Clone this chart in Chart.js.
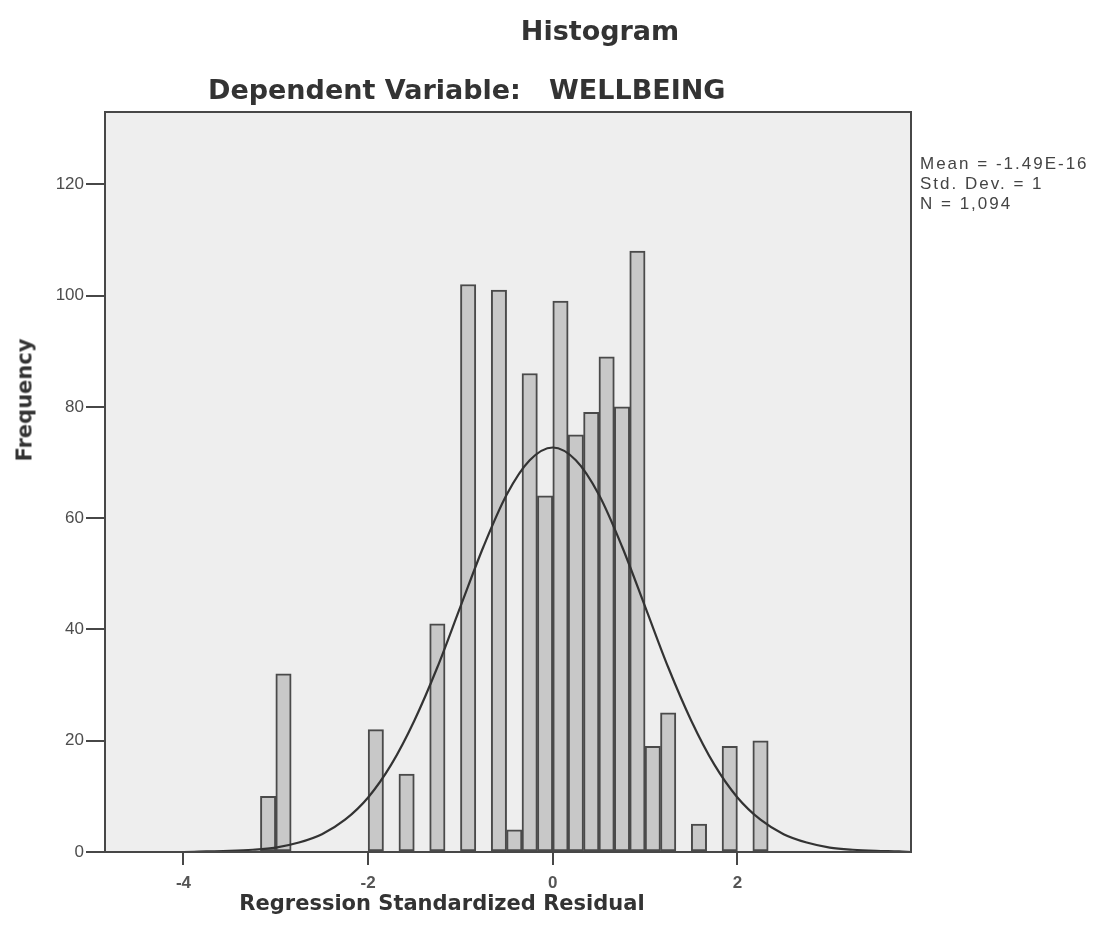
<!DOCTYPE html>
<html>
<head>
<meta charset="utf-8">
<title>Histogram</title>
<script src="https://cdn.jsdelivr.net/npm/chart.js@4.4.1/dist/chart.umd.min.js"></script>
<style>
  body { margin: 0; background: #fff; }
  #wrap { position: relative; width: 1098px; height: 943px; overflow: hidden; }
  #chart { position: absolute; left: 0; top: 0; }
  .lbl { position: absolute; line-height: 1; white-space: pre; color: #333; }
  .heading { font-family: 'DejaVu Sans', sans-serif; font-weight: bold; font-size: 27px; }
  .axis-title { font-family: 'DejaVu Sans', sans-serif; font-weight: bold; font-size: 21px; }
  .stats { font-family: 'Liberation Sans', Arial, sans-serif; font-size: 17px; letter-spacing: 2px; color: #444; }
</style>
</head>
<body>
<div id="wrap">
  <canvas id="chart" width="1098" height="943"></canvas>
  <div class="lbl heading" style="left:600px; top:17px; transform:translateX(-50%);">Histogram</div>
  <div class="lbl heading" style="left:208px; top:76px;">Dependent Variable:   WELLBEING</div>
  <div class="lbl axis-title" style="left:442px; top:893px; transform:translateX(-50%);">Regression Standardized Residual</div>
  <div class="lbl axis-title" style="left:25px; top:400px; transform:translate(-50%, -50%) rotate(-90deg);">Frequency</div>
  <div class="lbl stats" style="left:920px; top:155px;">Mean = -1.49E-16</div>
  <div class="lbl stats" style="left:920px; top:175px;">Std. Dev. = 1</div>
  <div class="lbl stats" style="left:920px; top:195px;">N = 1,094</div>
</div>
<script>
// Histogram bins (centre of each 1/6-wide bin) and their counts
const binCenters = [-3.0833, -2.9167, -1.9167, -1.5833, -1.2500, -0.9167, -0.5833, -0.4167,
                    -0.2500, -0.0833, 0.0833, 0.2500, 0.4167, 0.5833, 0.7500, 0.9167,
                    1.0833, 1.2500, 1.5833, 1.9167, 2.2500];
const binCounts = [10, 32, 22, 14, 41, 102, 101, 4,
                   86, 64, 99, 75, 79, 89, 80, 108,
                   19, 25, 5, 19, 20];

// Normal curve overlay, sampled along the residual axis
const curveX = [-4.85, -4.5, -4.25, -4, -3.75, -3.5, -3.25, -3, -2.75, -2.5, -2.25, -2,
                -1.75, -1.5, -1.25, -1, -0.75, -0.5, -0.25, 0, 0.25, 0.5, 0.75, 1,
                1.25, 1.5, 1.75, 2, 2.25, 2.5, 2.75, 3, 3.25, 3.5, 3.75, 3.88];
const curveY = [0, 0, 0, 0, 0.1, 0.2, 0.4, 0.8, 1.7, 3.2, 5.8, 9.8,
                15.7, 23.6, 33.2, 44.1, 54.9, 64.2, 70.4, 72.7, 70.4, 64.2, 54.9, 44.1,
                33.2, 23.6, 15.7, 9.8, 5.8, 3.2, 1.7, 0.8, 0.4, 0.2, 0.1, 0];

const xTicks = [-4, -2, 0, 2];
const yTicks = [0, 20, 40, 60, 80, 100, 120];
const xMin = -4.85, xMax = 3.88;
const yMax = 133;

const axisColor = '#474747';

// light plot background plus a frame round the plot area
const plotFrame = {
    id: 'plotFrame',
    beforeDraw(chart) {
        const { ctx, chartArea: a } = chart;
        ctx.save();
        ctx.fillStyle = '#eeeeee';
        ctx.fillRect(a.left, a.top, a.width, a.height);
        ctx.restore();
    },
    afterDraw(chart) {
        const { ctx, chartArea: a } = chart;
        ctx.save();
        ctx.strokeStyle = axisColor;
        ctx.lineWidth = 2;
        ctx.strokeRect(a.left, a.top, a.width, a.height);
        ctx.restore();
    }
};

const ctx = document.getElementById('chart').getContext('2d');

new Chart(ctx, {
    type: 'bar',
    data: {
        datasets: [
            {
                type: 'line',
                data: curveX.map((x, i) => ({ x: x, y: curveY[i] })),
                borderColor: '#333333',
                borderWidth: 2.2,
                pointRadius: 0,
                fill: false,
                cubicInterpolationMode: 'monotone',
                order: 0
            },
            {
                type: 'bar',
                data: binCenters.map((x, i) => ({ x: x, y: binCounts[i] })),
                backgroundColor: '#c8c8c8',
                borderColor: '#4a4a4a',
                borderWidth: 2,
                borderSkipped: false,
                barPercentage: 1,
                categoryPercentage: 1,
                order: 1
            }
        ]
    },
    options: {
        responsive: false,
        animation: false,
        layout: {
            padding: { left: 0, top: 112, right: 187, bottom: 0 }
        },
        plugins: {
            legend: { display: false },
            tooltip: { enabled: false }
        },
        scales: {
            x: {
                type: 'linear',
                min: xMin,
                max: xMax,
                offset: false,
                afterBuildTicks: scale => { scale.ticks = xTicks.map(v => ({ value: v })); },
                afterFit: scale => { scale.height = 91; },
                grid: {
                    offset: false,
                    drawOnChartArea: false,
                    drawTicks: true,
                    tickLength: 13,
                    color: axisColor,
                    lineWidth: 2
                },
                border: { display: true, color: axisColor, width: 2 },
                ticks: {
                    padding: 8,
                    color: '#555',
                    font: { family: 'Liberation Sans', size: 17, weight: 'bold' }
                }
            },
            y: {
                min: 0,
                max: yMax,
                afterBuildTicks: scale => { scale.ticks = yTicks.map(v => ({ value: v })); },
                afterFit: scale => { scale.width = 105; },
                grid: {
                    drawOnChartArea: false,
                    drawTicks: true,
                    tickLength: 19,
                    color: axisColor,
                    lineWidth: 2
                },
                border: { display: true, color: axisColor, width: 2 },
                ticks: {
                    padding: 2,
                    color: '#4d4d4d',
                    font: { family: 'Liberation Sans', size: 17 }
                }
            }
        }
    },
    plugins: [plotFrame]
});
</script>
</body>
</html>
